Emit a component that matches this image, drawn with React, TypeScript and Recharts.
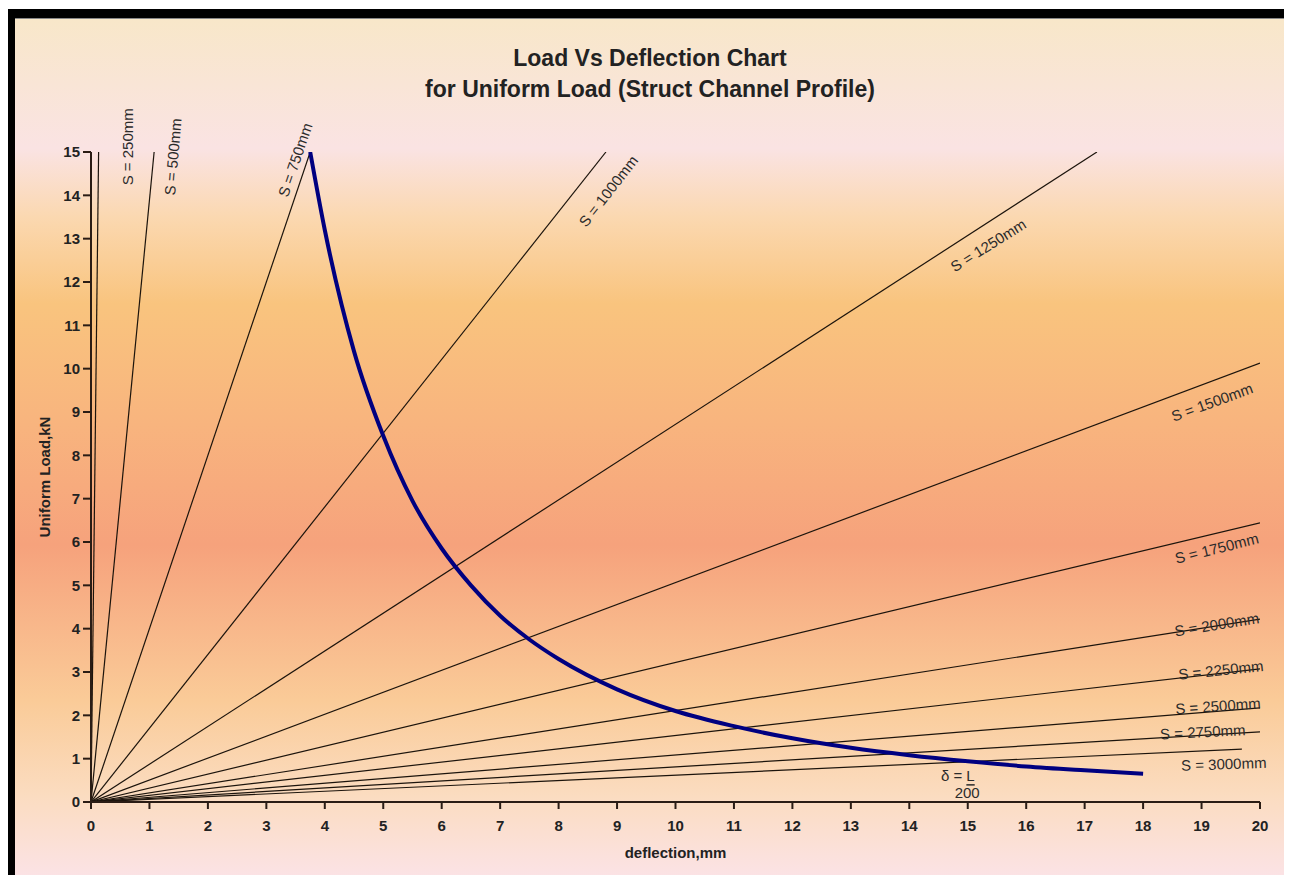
import { LineChart, Line, XAxis, YAxis, ReferenceDot } from 'recharts'

// deflection (mm) axis ticks and load (kN) axis ticks
const xTicks = [0, 1, 2, 3, 4, 5, 6, 7, 8, 9, 10, 11, 12, 13, 14, 15, 16, 17, 18, 19, 20]
const yTicks = [0, 1, 2, 3, 4, 5, 6, 7, 8, 9, 10, 11, 12, 13, 14, 15]

// span lines: each runs from the origin to its end point
const spans = ['S = 250mm', 'S = 500mm', 'S = 750mm', 'S = 1000mm', 'S = 1250mm', 'S = 1500mm', 'S = 1750mm', 'S = 2000mm', 'S = 2250mm', 'S = 2500mm', 'S = 2750mm', 'S = 3000mm']
const spanEndDeflection = [0.13, 1.08, 3.75, 8.81, 17.21, 20, 20, 20, 20, 20, 20, 19.69]
const spanEndLoad = [15, 15, 15, 15, 15, 10.13, 6.44, 4.22, 3.07, 2.17, 1.62, 1.22]

// limit curve delta = L/200
const limitDeflection = [3.75, 4, 4.5, 5, 5.5, 6, 6.5, 7, 7.5, 8, 9, 10, 11, 12, 13, 14, 15, 16, 17, 18]
const limitLoad = [15, 13.2, 10.4, 8.45, 6.95, 5.85, 5.0, 4.3, 3.75, 3.3, 2.6, 2.1, 1.75, 1.47, 1.25, 1.08, 0.94, 0.82, 0.73, 0.65]

// where each span label sits (data units) and its tilt
const labelX = [0.63, 1.4, 3.49, 8.85, 15.35, 19.18, 19.26, 19.26, 19.33, 19.28, 19.02, 19.38]
const labelY = [15.12, 14.89, 14.82, 14.1, 12.85, 9.23, 5.86, 4.1, 3.05, 2.22, 1.62, 0.88]
const labelAngle = [-90, -85, -71, -52, -32, -20, -14, -9, -6, -4, -3, -2]

const spanData = spans.map((name, i) => [
  { x: 0, y: 0 },
  { x: spanEndDeflection[i], y: spanEndLoad[i] },
])
const limitData = limitDeflection.map((x, i) => ({ x, y: limitLoad[i] }))

const FONT = "'Liberation Sans', Arial, Helvetica, sans-serif"
const AXIS = '#2a1c14'
const tickStyle = { fontSize: 15, fontWeight: 700, fill: '#222', fontFamily: FONT }
const axisTitle = { fontSize: 15, fontWeight: 700, fill: '#222', fontFamily: FONT }

const textShape = (text: string, angle: number) => (p: any) => (
  <text
    x={p.cx}
    y={p.cy}
    textAnchor="middle"
    dominantBaseline="central"
    transform={`rotate(${angle} ${p.cx} ${p.cy})`}
    fontSize={15}
    fontFamily={FONT}
    fill="#2b2b2b"
  >
    {text}
  </text>
)

// "δ = L" with only the L underlined (fraction bar over 200)
const deltaShape = (p: any) => (
  <text x={p.cx} y={p.cy} textAnchor="middle" dominantBaseline="central" fontSize={15} fontFamily={FONT} fill="#2b2b2b">
    <tspan>δ = </tspan>
    <tspan textDecoration="underline" style={{ textDecoration: 'underline' }}>L</tspan>
  </text>
)

export default function App() {
  return (
    <div style={{ position: 'relative', width: 1292, height: 883, margin: -8, background: '#fff', overflow: 'hidden' }}>
      <div style={{ position: 'absolute', left: 3, top: 6, width: 1300, height: 900, border: '1px solid #000' }} />
      <div style={{ position: 'absolute', left: 7, top: 9, width: 1300, height: 900, background: '#000' }} />
      <div
        style={{
          position: 'absolute',
          left: 15,
          top: 18,
          width: 1271,
          height: 863,
          borderTop: '1px solid #888',
          background:
            'linear-gradient(to bottom, #f8e7c9 0%, #fae3e3 15%, #fbd8b0 23%, #f9c47e 33%, #f8b47e 47%, #f6a27c 61%, #facb98 79%, #fbdcc0 90%, #fbe3e8 100%)',
        }}
      />
      <div
        style={{
          position: 'absolute',
          left: 0,
          width: 1292,
          top: 43,
          textAlign: 'center',
          fontFamily: FONT,
          fontWeight: 700,
          fontSize: 23,
          lineHeight: '31px',
          color: '#222',
        }}
      >
        <div style={{ transform: 'translateX(4px)' }}>Load Vs Deflection Chart</div>
        <div style={{ transform: 'translateX(4px)' }}>for Uniform Load (Struct Channel Profile)</div>
      </div>
      <div style={{ position: 'absolute', left: 0, top: 0 }}>
        <LineChart width={1292} height={883} margin={{ top: 152, right: 32, left: 30, bottom: 21 }}>
          <XAxis
            type="number"
            dataKey="x"
            domain={[0, 20]}
            ticks={xTicks}
            interval={0}
            allowDataOverflow
            height={60}
            tickSize={7}
            tickMargin={11}
            tick={tickStyle}
            axisLine={{ stroke: AXIS, strokeWidth: 2 }}
            tickLine={{ stroke: AXIS, strokeWidth: 2 }}
            label={{ value: 'deflection,mm', position: 'insideBottom', offset: 4, style: axisTitle }}
          />
          <YAxis
            type="number"
            dataKey="y"
            domain={[0, 15]}
            ticks={yTicks}
            interval={0}
            allowDataOverflow
            width={61}
            tickSize={8}
            tickMargin={3}
            tick={tickStyle}
            axisLine={{ stroke: AXIS, strokeWidth: 2 }}
            tickLine={{ stroke: AXIS, strokeWidth: 2 }}
            label={{ value: 'Uniform Load,kN', angle: -90, position: 'insideLeft', offset: 15, style: { ...axisTitle, textAnchor: 'middle' } }}
          />
          {spanData.map((d, i) => (
            <Line
              key={spans[i]}
              data={d}
              dataKey="y"
              type="linear"
              stroke="#1c140c"
              strokeWidth={1.2}
              dot={false}
              activeDot={false}
              isAnimationActive={false}
            />
          ))}
          <Line
            data={limitData}
            dataKey="y"
            type="monotone"
            stroke="#000080"
            strokeWidth={4}
            dot={false}
            activeDot={false}
            isAnimationActive={false}
          />
          {spans.map((s, i) => (
            <ReferenceDot key={'lbl' + s} x={labelX[i]} y={labelY[i]} r={0} ifOverflow="visible" shape={textShape(s, labelAngle[i])} />
          ))}
          <ReferenceDot x={14.83} y={0.62} r={0} ifOverflow="visible" shape={deltaShape} />
          <ReferenceDot x={14.99} y={0.21} r={0} ifOverflow="visible" shape={textShape('200', 0)} />
        </LineChart>
      </div>
    </div>
  )
}
